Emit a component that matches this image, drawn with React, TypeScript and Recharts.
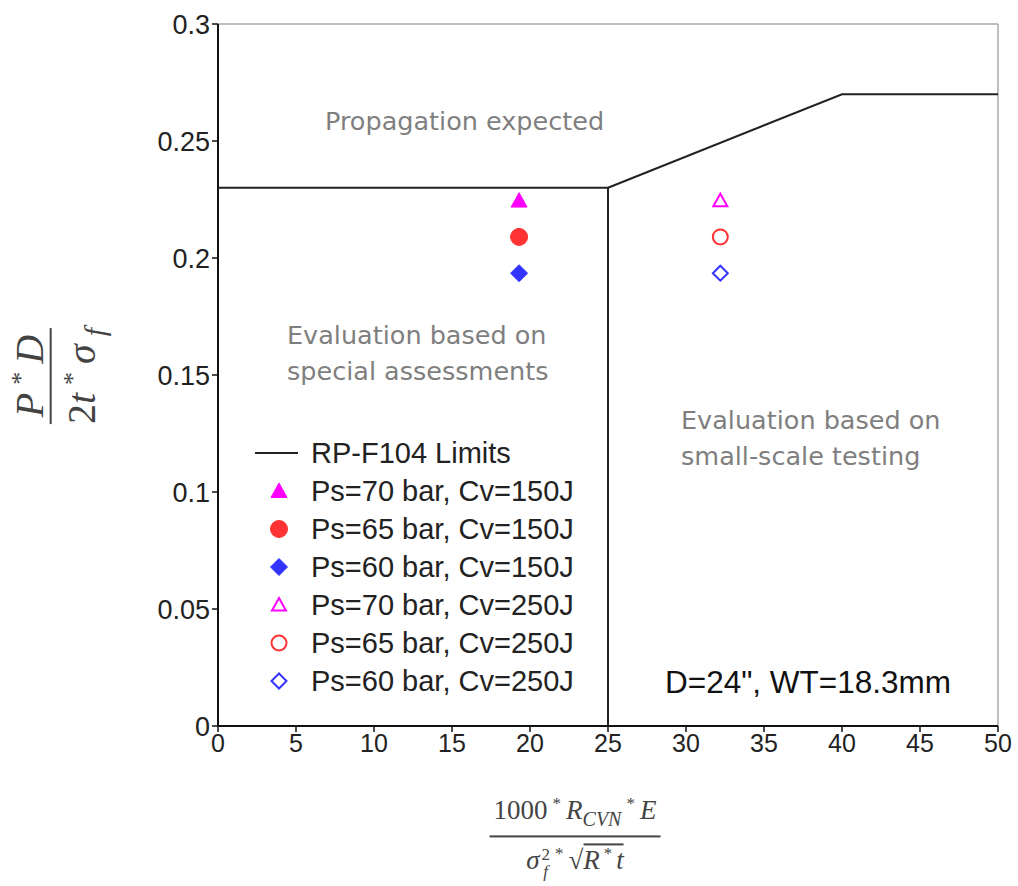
import { ScatterChart, Scatter, XAxis, YAxis, ReferenceLine } from "recharts";

const limitX = [0, 25, 25, 25, 40, 50];
const limitY = [0.23, 0.23, 0, 0.23, 0.27, 0.27];

const cv150X = 19.3;
const cv250X = 32.2;
const ps70 = 0.2245;
const ps65 = 0.209;
const ps60 = 0.1935;

const xTicks = [0, 5, 10, 15, 20, 25, 30, 35, 40, 45, 50];
const yTicks = [0, 0.05, 0.1, 0.15, 0.2, 0.25, 0.3];

const legendLabels = [
  "RP-F104 Limits",
  "Ps=70 bar, Cv=150J",
  "Ps=65 bar, Cv=150J",
  "Ps=60 bar, Cv=150J",
  "Ps=70 bar, Cv=250J",
  "Ps=65 bar, Cv=250J",
  "Ps=60 bar, Cv=250J",
];

const limitData = limitX.map((x, i) => ({ x, y: limitY[i] }));

const MAGENTA = "#ff00ff";
const RED = "#ff3333";
const BLUE = "#3333ff";

type Kind = "tri" | "circle" | "diamond";

function Marker({ cx, cy, kind, color, filled }: { cx: number; cy: number; kind: Kind; color: string; filled: boolean }) {
  const fill = filled ? color : "#fff";
  const sw = filled ? 1 : 2;
  if (kind === "tri") {
    const s = filled ? 8 : 7;
    return <path d={`M${cx},${cy - s} L${cx + s},${cy + s * 0.8} L${cx - s},${cy + s * 0.8} Z`} fill={fill} stroke={color} strokeWidth={sw} />;
  }
  if (kind === "circle") {
    return <circle cx={cx} cy={cy} r={filled ? 8.5 : 7.5} fill={fill} stroke={color} strokeWidth={sw} />;
  }
  const s = filled ? 8.5 : 7.5;
  return <path d={`M${cx},${cy - s} L${cx + s},${cy} L${cx},${cy + s} L${cx - s},${cy} Z`} fill={fill} stroke={color} strokeWidth={sw} />;
}

const seriesDefs: { x: number; y: number; kind: Kind; color: string; filled: boolean }[] = [
  { x: cv150X, y: ps70, kind: "tri", color: MAGENTA, filled: true },
  { x: cv150X, y: ps65, kind: "circle", color: RED, filled: true },
  { x: cv150X, y: ps60, kind: "diamond", color: BLUE, filled: true },
  { x: cv250X, y: ps70, kind: "tri", color: MAGENTA, filled: false },
  { x: cv250X, y: ps65, kind: "circle", color: RED, filled: false },
  { x: cv250X, y: ps60, kind: "diamond", color: BLUE, filled: false },
];

const note: React.CSSProperties = {
  position: "absolute",
  fontFamily: "'DejaVu Sans', sans-serif",
  fontSize: 25.5,
  color: "#7f7f7f",
  lineHeight: "36px",
  whiteSpace: "nowrap",
};

const math: React.CSSProperties = {
  fontFamily: "'Liberation Serif', serif",
  color: "#444",
};

const star = (size: number, gap = 3) => <sup style={{ fontSize: size, margin: `0 ${gap}px` }}>*</sup>;

export default function App() {
  return (
    <div style={{ position: "absolute", left: 0, top: 0, width: 1018, height: 886, background: "#fff" }}>
      <ScatterChart width={1018} height={886} margin={{ top: 24, right: 20, bottom: 120, left: 150 }}>
        <XAxis
          type="number"
          dataKey="x"
          domain={[0, 50]}
          ticks={xTicks}
          interval={0}
          axisLine={{ stroke: "#111", strokeWidth: 2 }}
          tickLine={{ stroke: "#111", strokeWidth: 1.5 }}
          tickSize={6}
          height={40}
          tick={{ fill: "#222", fontSize: 25, fontFamily: "'Liberation Sans', Arial, sans-serif" }}
        />
        <YAxis
          type="number"
          dataKey="y"
          domain={[0, 0.3]}
          ticks={yTicks}
          interval={0}
          width={68}
          axisLine={{ stroke: "#111", strokeWidth: 2 }}
          tickLine={{ stroke: "#111", strokeWidth: 1.5 }}
          tickSize={6}
          tickFormatter={(v: number) => String(+v.toFixed(2))}
          tick={{ fill: "#222", fontSize: 27, fontFamily: "'Liberation Sans', Arial, sans-serif" }}
        />
        <ReferenceLine y={0.3} stroke="#aaa" strokeWidth={1.5} />
        <ReferenceLine x={50} stroke="#aaa" strokeWidth={1.5} />
        <Scatter
          data={limitData}
          line={{ stroke: "#222", strokeWidth: 2 }}
          lineType="joint"
          shape={() => <g />}
          isAnimationActive={false}
        />
        {seriesDefs.map((s, i) => (
          <Scatter
            key={i}
            data={[{ x: s.x, y: s.y }]}
            isAnimationActive={false}
            shape={(p: any) => <Marker cx={p.cx} cy={p.cy} kind={s.kind} color={s.color} filled={s.filled} />}
          />
        ))}
      </ScatterChart>

      <div style={{ ...note, left: 325, top: 103 }}>Propagation expected</div>
      <div style={{ ...note, left: 287, top: 317 }}>
        Evaluation based on
        <br />
        special assessments
      </div>
      <div style={{ ...note, left: 681, top: 402 }}>
        Evaluation based on
        <br />
        small-scale testing
      </div>
      <div
        style={{
          position: "absolute",
          left: 665,
          top: 664,
          fontFamily: "'Liberation Sans', Arial, sans-serif",
          fontSize: 31.5,
          color: "#111",
          whiteSpace: "nowrap",
        }}
      >
        D=24", WT=18.3mm
      </div>

      {/* legend */}
      <svg style={{ position: "absolute", left: 250, top: 434 }} width={60} height={270}>
        <line x1={5} y1={19} x2={48} y2={19} stroke="#222" strokeWidth={2} />
        {seriesDefs.map((s, i) => (
          <Marker key={i} cx={29} cy={57 + i * 38} kind={s.kind} color={s.color} filled={s.filled} />
        ))}
      </svg>
      <div
        style={{
          position: "absolute",
          left: 311,
          top: 434,
          fontFamily: "'Liberation Sans', Arial, sans-serif",
          fontSize: 29,
          color: "#222",
          lineHeight: "38px",
          whiteSpace: "nowrap",
        }}
      >
        {legendLabels.map((l) => (
          <div key={l}>{l}</div>
        ))}
      </div>

      {/* y-axis label */}
      <div
        style={{
          position: "absolute",
          left: 58,
          top: 376,
          transform: "translate(-50%, -50%) rotate(-90deg)",
          textAlign: "center",
          fontSize: 40,
          ...math,
          whiteSpace: "nowrap",
        }}
      >
        <div style={{ borderBottom: "2.5px solid #444", padding: "0 6px", lineHeight: "40px" }}>
          <i>P</i>
          {star(26, 8)}
          <i>D</i>
        </div>
        <div style={{ lineHeight: "42px" }}>
          2<i>t</i>
          {star(26, 8)}
          <i>σ</i>
          <sub style={{ fontSize: 30, marginLeft: 8 }}>
            <i>f</i>
          </sub>
        </div>
      </div>

      {/* x-axis label */}
      <div
        style={{
          position: "absolute",
          left: 575,
          top: 834,
          transform: "translate(-50%, -50%)",
          textAlign: "center",
          fontSize: 27,
          ...math,
          whiteSpace: "nowrap",
        }}
      >
        <div style={{ borderBottom: "2px solid #444", padding: "0 4px", lineHeight: "34px" }}>
          1000{star(17, 5)}
          <i>R</i>
          <sub style={{ fontSize: 20 }}>
            <i>CVN</i>
          </sub>
          {star(17, 5)}
          <i>E</i>
        </div>
        <div style={{ lineHeight: "34px" }}>
          <i>σ</i>
          <span
            style={{
              display: "inline-flex",
              flexDirection: "column",
              verticalAlign: "middle",
              fontSize: 17,
              lineHeight: "17px",
              marginLeft: 2,
            }}
          >
            <span>2</span>
            <i>f</i>
          </span>
          {star(17, 5)}√
          <span style={{ borderTop: "2px solid #444" }}>
            <i>R</i>
            {star(17, 4)}
            <i>t</i>
          </span>
        </div>
      </div>
    </div>
  );
}
